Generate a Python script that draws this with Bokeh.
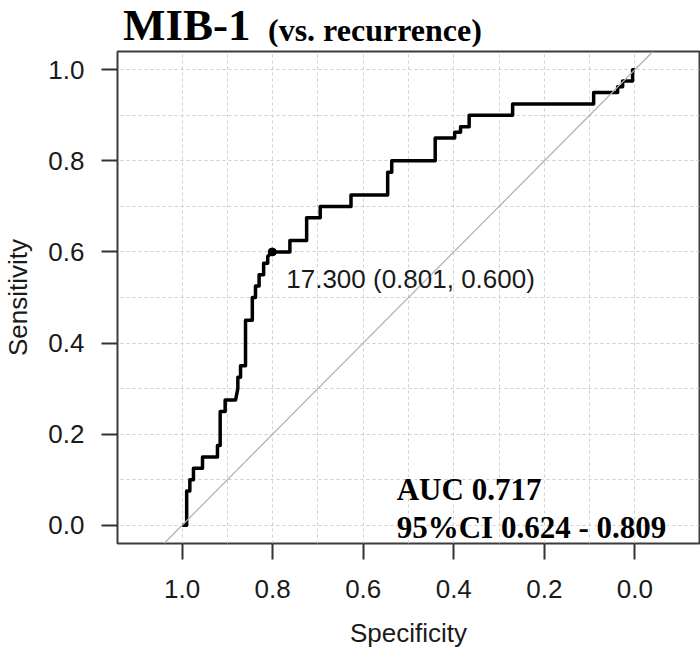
from bokeh.plotting import figure
from bokeh.layouts import column
from bokeh.models import Range1d, FixedTicker, PrintfTickFormatter, Slope, Label, Div
from bokeh.embed import file_html
from bokeh.resources import INLINE

# ROC curve vertices (specificity, sensitivity)
specificity = [1.000, 0.990, 0.990, 0.983, 0.983, 0.975, 0.975, 0.955, 0.955, 0.922,
               0.922, 0.916, 0.916, 0.905, 0.905, 0.882, 0.877, 0.877, 0.871, 0.871,
               0.860, 0.860, 0.845, 0.845, 0.838, 0.838, 0.830, 0.830, 0.820, 0.820,
               0.811, 0.811, 0.801, 0.762, 0.762, 0.725, 0.725, 0.695, 0.695, 0.627,
               0.627, 0.546, 0.546, 0.537, 0.537, 0.441, 0.441, 0.398, 0.398, 0.385,
               0.385, 0.366, 0.366, 0.270, 0.270, 0.091, 0.091, 0.038, 0.038, 0.027,
               0.027, 0.005, 0.005, 0.000]
sensitivity = [0.000, 0.000, 0.075, 0.075, 0.100, 0.100, 0.125, 0.125, 0.150, 0.150,
               0.175, 0.175, 0.250, 0.250, 0.275, 0.275, 0.300, 0.325, 0.325, 0.350,
               0.350, 0.450, 0.450, 0.500, 0.500, 0.525, 0.525, 0.550, 0.550, 0.575,
               0.575, 0.590, 0.600, 0.600, 0.625, 0.625, 0.675, 0.675, 0.700, 0.700,
               0.725, 0.725, 0.775, 0.775, 0.800, 0.800, 0.850, 0.850, 0.8625, 0.8625,
               0.875, 0.875, 0.900, 0.900, 0.925, 0.925, 0.950, 0.950, 0.9625, 0.9625,
               0.975, 0.975, 1.000, 1.000]

best_threshold = 17.300
best_spec = 0.801
best_sens = 0.600
auc_value = 0.717
ci_low = 0.624
ci_high = 0.809

axis_ticks = [0.0, 0.2, 0.4, 0.6, 0.8, 1.0]
grid_ticks = [0.0, 0.1, 0.2, 0.3, 0.4, 0.5, 0.6, 0.7, 0.8, 0.9, 1.0]

title_main = "MIB-1"
title_sub = "(vs. recurrence)"
x_title = "Specificity"
y_title = "Sensitivity"

SANS = "Liberation Sans"
SERIF = "Liberation Serif"
TXT = "#1a1a1a"

TITLE_H = 46
FIG_W = 700
FIG_H = 658 - TITLE_H

title_div = Div(
    text=(
        f'<div style="position:relative;width:{FIG_W}px;height:{TITLE_H}px;white-space:nowrap;overflow:visible;">'
        f'<span style="position:absolute;left:123px;top:3px;font-family:\'{SERIF}\';font-weight:bold;'
        f'font-size:45px;line-height:45px;color:#000;">{title_main}</span>'
        f'<span style="position:absolute;left:268px;top:14px;font-family:\'{SERIF}\';font-weight:bold;'
        f'font-size:32px;line-height:32px;color:#000;">{title_sub}</span>'
        '</div>'
    ),
    width=FIG_W, height=TITLE_H, margin=(0, 0, 0, 0),
    styles={"overflow": "visible"},
)

p = figure(width=FIG_W, height=FIG_H,
           x_range=Range1d(1.1428, -0.1428), y_range=Range1d(-0.04, 1.04),
           output_backend="svg", toolbar_location=None,
           min_border_left=113, min_border_right=1,
           min_border_top=5, min_border_bottom=115, margin=(0, 0, 0, 0))
p.background_fill_color = "white"
p.border_fill_color = "white"
p.outline_line_color = "#3c3c3c"
p.outline_line_width = 2
p.outline_line_alpha = 1.0

for ax in (p.xaxis, p.yaxis):
    ax.ticker = FixedTicker(ticks=axis_ticks)
    ax.formatter = PrintfTickFormatter(format="%.1f")
    ax.axis_line_color = None
    ax.major_tick_out = 16
    ax.major_tick_in = 0
    ax.minor_tick_out = 0
    ax.minor_tick_in = 0
    ax.major_tick_line_color = "#333333"
    ax.major_tick_line_width = 2
    ax.major_label_text_font = SANS
    ax.major_label_text_font_size = "26px"
    ax.major_label_text_color = TXT
    ax.axis_label_text_font = SANS
    ax.axis_label_text_font_size = "26px"
    ax.axis_label_text_font_style = "normal"
    ax.axis_label_text_color = TXT

p.xaxis.major_label_standoff = 20
p.yaxis.major_label_standoff = 17
p.xaxis.axis_label = x_title
p.yaxis.axis_label = y_title
p.xaxis.axis_label_standoff = 17
p.yaxis.axis_label_standoff = 12

for g in (p.xgrid, p.ygrid):
    g.ticker = FixedTicker(ticks=grid_ticks)
    g.grid_line_color = "#cfcfcf"
    g.grid_line_dash = "3 3"
    g.grid_line_width = 1

p.add_layout(Slope(gradient=-1, y_intercept=1, line_color="#b0b0b0", line_width=1.2))

p.line(specificity, sensitivity, line_color="black", line_width=3.5, line_join="round")
p.scatter([best_spec], [best_sens], size=8, color="black")

p.add_layout(Label(x=best_spec, y=best_sens, x_offset=14, y_offset=-27,
                   text=f"{best_threshold:.3f} ({best_spec:.3f}, {best_sens:.3f})",
                   text_font=SANS, text_font_size="26px", text_color=TXT,
                   text_baseline="alphabetic", text_align="left"))

p.add_layout(Label(x=0.526, y=0.079, text=f"AUC {auc_value:.3f}",
                   text_font=SERIF, text_font_style="bold", text_font_size="31px",
                   text_color="black", text_baseline="alphabetic"))
p.add_layout(Label(x=0.526, y=-0.004, text=f"95%CI {ci_low:.3f} - {ci_high:.3f}",
                   text_font=SERIF, text_font_style="bold", text_font_size="31px",
                   text_color="black", text_baseline="alphabetic"))

layout = column(title_div, p, spacing=0, margin=(0, 0, 0, 0))

open("out.html", "w").write(file_html(layout, INLINE))
